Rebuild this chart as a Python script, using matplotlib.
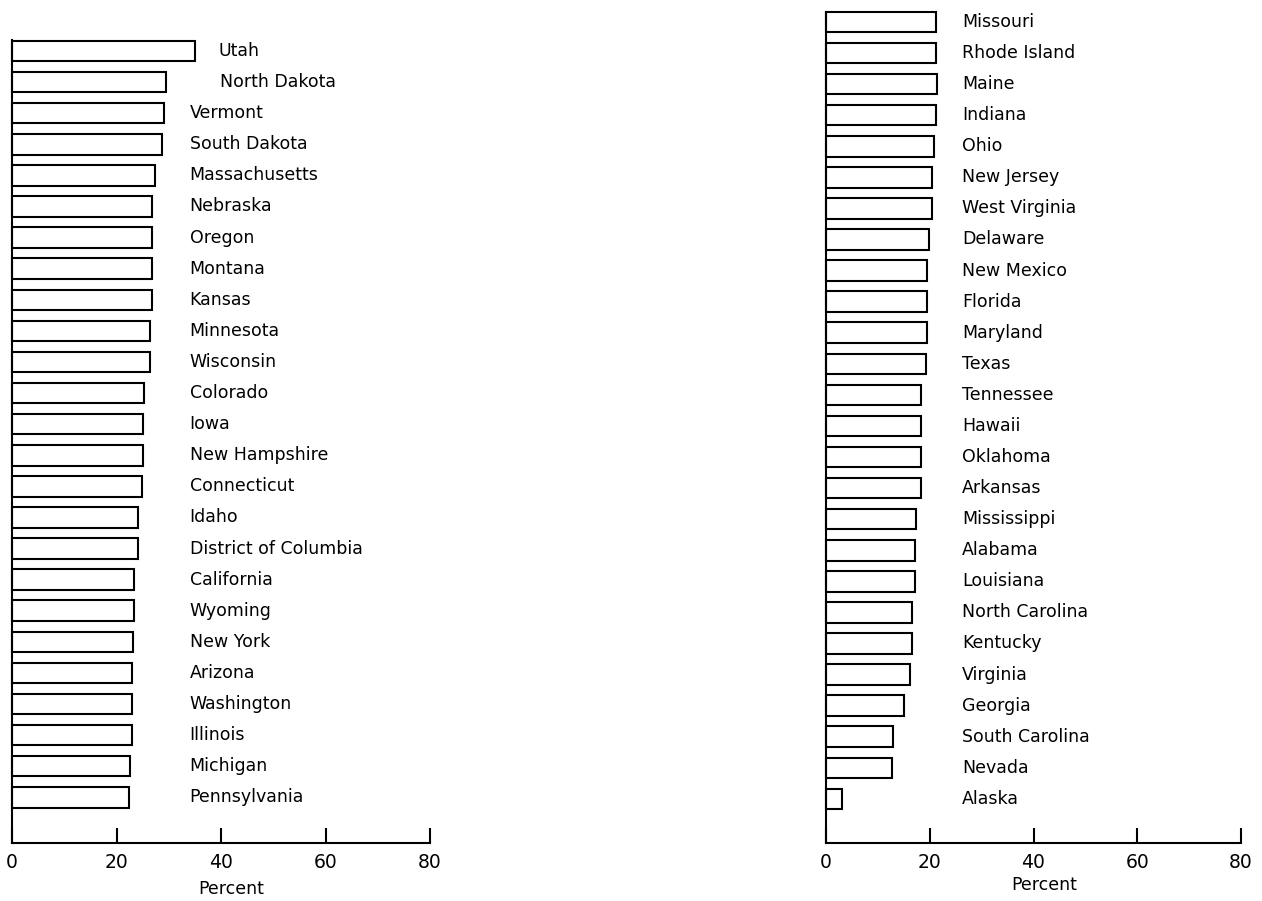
import matplotlib
matplotlib.use("Agg")
import matplotlib.pyplot as plt

plt.rcParams['font.family'] = ['DejaVu Sans']

left_states = ["Utah", "North Dakota", "Vermont", "South Dakota", "Massachusetts",
               "Nebraska", "Oregon", "Montana", "Kansas", "Minnesota", "Wisconsin",
               "Colorado", "Iowa", "New Hampshire", "Connecticut", "Idaho",
               "District of Columbia", "California", "Wyoming", "New York", "Arizona",
               "Washington", "Illinois", "Michigan", "Pennsylvania"]
left_values = [35.0, 29.4, 29.1, 28.7, 27.3, 26.8, 26.8, 26.7, 26.7, 26.4, 26.4,
               25.3, 25.1, 25.0, 24.8, 24.2, 24.2, 23.4, 23.4, 23.1, 23.0, 23.0,
               22.9, 22.5, 22.4]

right_states = ["Missouri", "Rhode Island", "Maine", "Indiana", "Ohio", "New Jersey",
                "West Virginia", "Delaware", "New Mexico", "Florida", "Maryland", "Texas",
                "Tennessee", "Hawaii", "Oklahoma", "Arkansas", "Mississippi", "Alabama",
                "Louisiana", "North Carolina", "Kentucky", "Virginia", "Georgia",
                "South Carolina", "Nevada", "Alaska"]
right_values = [21.3, 21.3, 21.4, 21.2, 20.8, 20.5, 20.5, 19.8, 19.5, 19.4, 19.5, 19.3,
                18.4, 18.4, 18.3, 18.3, 17.3, 17.2, 17.2, 16.5, 16.5, 16.1, 15.1,
                13.0, 12.7, 3.1]

xticks = [0, 20, 40, 60, 80]
xlabel = "Percent"

W, H = 1262, 901
fig = plt.figure(figsize=(W / 100, H / 100), dpi=100)
fig.patch.set_facecolor('white')


def make_axes(px_left, px_right, px_top, px_bottom):
    return fig.add_axes([px_left / W, 1 - px_bottom / H,
                         (px_right - px_left) / W, (px_bottom - px_top) / H])


def draw_panel(ax, states, values, ylim, label_x, xlabel_dy, special=None):
    n = len(states)
    ys = list(range(n))
    ax.barh(ys, values, height=0.66, color='white', edgecolor='black',
            linewidth=1.5, clip_on=False)
    ax.set_xlim(0, 80)
    ax.set_ylim(*ylim)
    for i, (s, v) in enumerate(zip(states, values)):
        x = label_x
        if special and s in special:
            x = special[s]
        ax.text(x, i, s, ha='left', va='center', fontsize=12.5, color='black')
    for sp in ['top', 'right']:
        ax.spines[sp].set_visible(False)
    for sp in ['left', 'bottom']:
        ax.spines[sp].set_linewidth(1.5)
    ax.set_yticks([])
    ax.set_xticks(xticks)
    ax.set_xticklabels([str(t) for t in xticks])
    ax.tick_params(axis='x', direction='in', length=11, width=1.5, pad=7,
                   labelsize=13.5)
    ax.text(42, ylim[0] + xlabel_dy, xlabel, ha='center', va='top', fontsize=12.5)
    return ax


axL = make_axes(12, 430, 40, 843)
draw_panel(axL, left_states, left_values, (25.47, -0.354), 34.0, 1.2,
           special={"Utah": 39.5, "North Dakota": 39.9})

axR = make_axes(826, 1241, 11.7, 843)
draw_panel(axR, right_states, right_values, (26.42, -0.33), 26.2, 1.05)

fig.savefig("out.png", dpi=100, facecolor='white')
